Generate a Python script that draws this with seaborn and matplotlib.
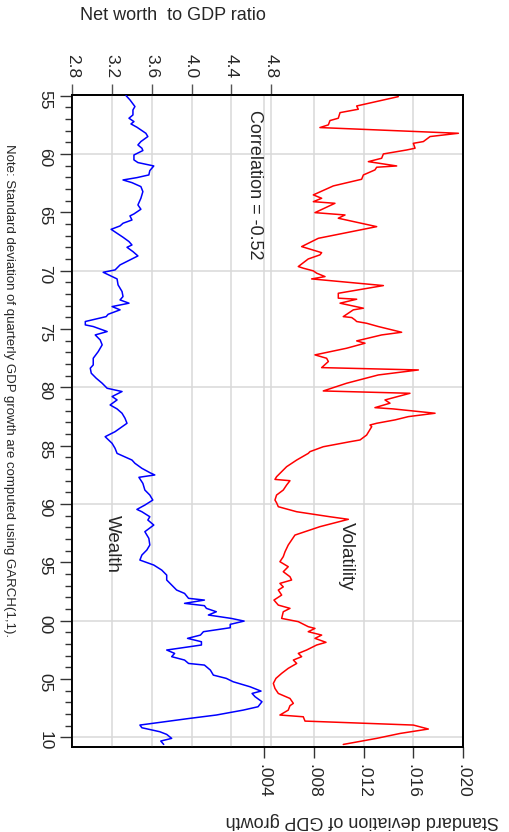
import matplotlib
matplotlib.use("Agg")
import matplotlib.pyplot as plt
import seaborn as sns
from matplotlib.ticker import MultipleLocator

# --- data (rotated layout: time runs down the page) ---
wealth_year = [1955.00, 1955.37, 1955.94, 1956.23, 1956.66, 1956.94, 1957.23, 1957.43, 1957.71, 1958.23,
               1958.51, 1958.94, 1959.23, 1959.51, 1959.71, 1960.09, 1960.51, 1960.74, 1961.03, 1961.43,
               1961.80, 1962.03, 1962.23, 1962.46, 1962.80, 1963.23, 1963.80, 1964.37, 1964.74, 1965.14,
               1965.31, 1965.66, 1965.94, 1966.17, 1966.46, 1966.80, 1967.14, 1967.51, 1967.80, 1968.00,
               1968.37, 1968.74, 1969.08, 1969.51, 1969.94, 1970.14, 1970.42, 1970.71, 1971.22, 1971.51,
               1971.79, 1972.22, 1972.51, 1972.79, 1973.08, 1973.36, 1973.74, 1973.94, 1974.36, 1974.65,
               1974.79, 1975.22, 1975.51, 1975.94, 1976.36, 1976.94, 1977.51, 1978.08, 1978.36, 1978.79,
               1979.22, 1979.65, 1980.08, 1980.36, 1980.79, 1981.08, 1981.51, 1981.85, 1982.22, 1982.65,
               1983.08, 1983.80, 1984.23, 1984.80, 1985.23, 1985.66, 1986.23, 1986.51, 1986.94, 1987.31,
               1987.51, 1987.71, 1988.23, 1988.80, 1989.23, 1989.66, 1990.09, 1990.46, 1990.66, 1991.09,
               1991.37, 1991.80, 1992.37, 1992.94, 1993.51, 1993.94, 1994.37, 1994.80, 1995.23, 1995.66,
               1996.09, 1996.51, 1996.94, 1997.37, 1997.66, 1998.08, 1998.23, 1998.51, 1998.71, 1998.94,
               1999.23, 1999.51, 1999.80, 2000.03, 2000.31, 2000.60, 2000.94, 2001.23, 2001.51, 2001.80,
               2002.08, 2002.51, 2002.80, 2003.08, 2003.37, 2003.66, 2003.80, 2004.23, 2004.66, 2004.94,
               2005.23, 2005.66, 2006.03, 2006.23, 2006.51, 2006.94, 2007.37, 2007.66, 2008.08, 2008.37,
               2008.71, 2008.94, 2009.17, 2009.51, 2009.74, 2010.08, 2010.31, 2010.60]
wealth_ratio = [3.34, 3.38, 3.43, 3.41, 3.41, 3.37, 3.42, 3.39, 3.45, 3.54,
                3.56, 3.49, 3.46, 3.50, 3.51, 3.42, 3.42, 3.46, 3.62, 3.58,
                3.57, 3.45, 3.31, 3.40, 3.49, 3.51, 3.49, 3.46, 3.49, 3.42,
                3.38, 3.40, 3.31, 3.28, 3.19, 3.25, 3.31, 3.37, 3.40, 3.35,
                3.41, 3.46, 3.38, 3.28, 3.23, 3.11, 3.18, 3.25, 3.26, 3.28,
                3.30, 3.31, 3.28, 3.37, 3.20, 3.28, 3.16, 3.14, 2.93, 2.93,
                3.01, 3.15, 3.03, 3.08, 3.10, 3.06, 3.01, 3.01, 2.98, 2.99,
                3.04, 3.10, 3.15, 3.30, 3.20, 3.25, 3.18, 3.25, 3.30, 3.33,
                3.35, 3.23, 3.13, 3.20, 3.23, 3.25, 3.40, 3.43, 3.50, 3.58,
                3.63, 3.47, 3.51, 3.53, 3.58, 3.61, 3.53, 3.45, 3.50, 3.58,
                3.56, 3.62, 3.53, 3.57, 3.58, 3.55, 3.50, 3.48, 3.62, 3.70,
                3.75, 3.75, 3.80, 3.85, 3.93, 3.97, 4.13, 3.93, 4.13, 4.15,
                4.25, 4.17, 4.40, 4.53, 4.39, 4.39, 4.12, 4.09, 3.96, 4.10,
                4.10, 3.75, 3.83, 3.80, 3.93, 3.97, 4.13, 4.19, 4.22, 4.35,
                4.42, 4.59, 4.70, 4.61, 4.64, 4.71, 4.67, 4.52, 4.25, 3.98,
                3.68, 3.48, 3.50, 3.68, 3.75, 3.80, 3.69, 3.72]

vol_year = [1955.09, 1955.89, 1956.17, 1956.46, 1956.94, 1957.14, 1957.51, 1957.74, 1958.23, 1958.51,
            1958.94, 1959.09, 1959.51, 1959.66, 1960.00, 1960.37, 1960.66, 1961.03, 1961.14, 1961.37,
            1961.80, 1962.17, 1962.74, 1963.51, 1963.80, 1964.09, 1964.23, 1965.03, 1965.23, 1965.51,
            1966.23, 1967.23, 1967.94, 1968.46, 1968.65, 1969.00, 1969.65, 1969.79, 1970.02, 1970.22,
            1970.51, 1970.71, 1971.28, 1971.94, 1972.36, 1972.45, 1972.79, 1973.22, 1973.36, 1973.94,
            1974.02, 1974.22, 1974.36, 1974.51, 1974.79, 1975.28, 1975.51, 1976.02, 1976.22, 1976.65,
            1977.22, 1977.51, 1977.79, 1978.31, 1978.51, 1978.94, 1979.65, 1980.31, 1980.51, 1981.08,
            1981.36, 1981.74, 1981.85, 1982.22, 1982.51, 1982.79, 1983.08, 1983.23, 1983.37, 1984.09,
            1984.51, 1984.66, 1985.09, 1985.51, 1985.66, 1986.23, 1986.80, 1987.66, 1987.89, 1988.00,
            1988.37, 1988.80, 1989.23, 1989.66, 1989.89, 1990.23, 1990.66, 1991.09, 1991.31, 1991.94,
            1992.66, 1993.09, 1993.51, 1994.09, 1994.51, 1994.94, 1995.37, 1995.80, 1996.23, 1996.51,
            1996.80, 1997.10, 1997.37, 1997.80, 1998.23, 1998.66, 1998.94, 1999.23, 1999.80, 2000.08,
            2000.51, 2000.66, 2000.94, 2001.23, 2001.51, 2001.85, 2002.08, 2002.51, 2002.80, 2003.08,
            2003.37, 2003.66, 2004.08, 2004.51, 2004.94, 2005.37, 2005.80, 2006.23, 2006.66, 2007.08,
            2007.28, 2007.66, 2008.08, 2008.23, 2008.60, 2008.94, 2009.28, 2009.66, 2010.08, 2010.60]
vol_sd = [.01479, .01144, .01157, .01010, .00996, .00929, .00916, .00848, .01963, .01735,
          .01681, .01600, .01614, .01547, .01359, .01345, .01238, .01466, .01305, .01291,
          .01198, .01184, .00956, .00795, .00862, .00795, .00969, .00808, .01050, .00996,
          .01305, .00835, .00701, .00862, .00848, .00754, .00674, .00714, .00795, .00822,
          .00889, .00781, .01359, .00996, .00996, .01144, .01010, .01198, .01117, .01036,
          .01104, .01130, .01144, .01224, .01318, .01506, .01345, .01144, .01211, .01063,
          .00808, .00902, .00916, .00862, .01641, .01318, .01063, .00875, .01573, .01372,
          .01412, .01291, .01439, .01775, .01560, .01453, .01305, .01251, .01265, .01224,
          .01171, .01090, .00875, .00768, .00754, .00661, .00580, .00499, .00486, .00607,
          .00580, .00553, .00499, .00486, .00499, .00513, .00661, .00929, .01077, .00848,
          .00647, .00620, .00593, .00567, .00553, .00526, .00593, .00553, .00607, .00620,
          .00526, .00553, .00513, .00540, .00478, .00513, .00607, .00553, .00540, .00674,
          .00754, .00808, .00754, .00862, .00808, .00897, .00822, .00741, .00674, .00701,
          .00634, .00661, .00593, .00540, .00494, .00473, .00486, .00513, .00607, .00634,
          .00607, .00593, .00526, .00714, .00728, .01600, .01721, .01493, .01305, .01036]

year_ticks = [1955, 1960, 1965, 1970, 1975, 1980, 1985, 1990, 1995, 2000, 2005, 2010]
year_labels = ['55', '60', '65', '70', '75', '80', '85', '90', '95', '00', '05', '10']
grid_years = [1960, 1970, 1980, 1990, 2000, 2010]
wealth_ticks = [2.8, 3.2, 3.6, 4.0, 4.4, 4.8]
wealth_labels = ['2.8', '3.2', '3.6', '4.0', '4.4', '4.8']
vol_ticks = [.004, .008, .012, .016, .020]
vol_labels = ['.004', '.008', '.012', '.016', '.020']

sns.set_style("ticks")
plt.rcParams['font.family'] = ['Liberation Sans', 'DejaVu Sans']

W, H = 509, 832
fig = plt.figure(figsize=(W / 100, H / 100), dpi=100)
ax = fig.add_axes([72 / W, 1 - 747 / H, (463 - 72) / W, (747 - 95) / H])
ax2 = ax.twiny()

grid_col = '#d8d8d8'
sns.lineplot(x=vol_sd, y=vol_year, sort=False, estimator=None, color='#ff0000', lw=1.1, ax=ax, zorder=3)
sns.lineplot(x=wealth_ratio, y=wealth_year, sort=False, estimator=None, color='#0000ff', lw=1.1, ax=ax2, zorder=3)

ax.set_xlim(-0.01148, 0.0200)
ax2.set_xlim(2.796, 6.735)
ax.set_ylim(2010.82, 1954.95)

# bottom axis: volatility
ax.set_xticks(vol_ticks, labels=vol_labels, rotation=270)
ax.tick_params(axis='x', length=8, width=1, pad=4, labelsize=12.5, color='#333333')
# top axis: wealth
ax2.set_xticks(wealth_ticks, labels=wealth_labels, rotation=270)
ax2.tick_params(axis='x', length=8, width=1, pad=4, labelsize=12.5, color='#555555')
# years down the left side
ax.set_yticks(year_ticks, labels=year_labels, rotation=270)
ax.yaxis.set_minor_locator(MultipleLocator(1))
ax.tick_params(axis='y', which='major', length=9, width=1, pad=5, labelsize=12.5, color='#333333')
ax.tick_params(axis='y', which='minor', length=5, width=1, color='#333333')

for a in (ax, ax2):
    a.set_xlabel('')
    a.set_ylabel('')
    for s in a.spines.values():
        s.set_linewidth(1.3)
        s.set_color('black')

ax.set_axisbelow(True)
ax.grid(axis='x', color=grid_col, lw=1.1)
ax2.grid(axis='x', color=grid_col, lw=1.1, zorder=0)
for yr in grid_years:
    ax.axhline(yr, color=grid_col, lw=1.1, zorder=0)

fig.text(173 / W, 1 - 16 / H, 'Net worth  to GDP ratio', ha='center', va='center', fontsize=13)
fig.text(362 / W, 1 - 821 / H, 'Standard deviation of GDP growth', rotation=180,
         ha='center', va='center', fontsize=13)
fig.text(9 / W, 1 - 390 / H,
         'Note: Standard deviation of quarterly GDP growth are computed using GARCH(1,1).',
         rotation=270, ha='center', va='center', fontsize=9.5)
fig.text(254 / W, 1 - 185 / H, 'Correlation = -0.52', rotation=270, ha='center', va='center', fontsize=13)
fig.text(112 / W, 1 - 544 / H, 'Wealth', rotation=270, ha='center', va='center', fontsize=13.5)
fig.text(346 / W, 1 - 556 / H, 'Volatility', rotation=270, ha='center', va='center', fontsize=13.5)

fig.savefig('out.png', dpi=100)
